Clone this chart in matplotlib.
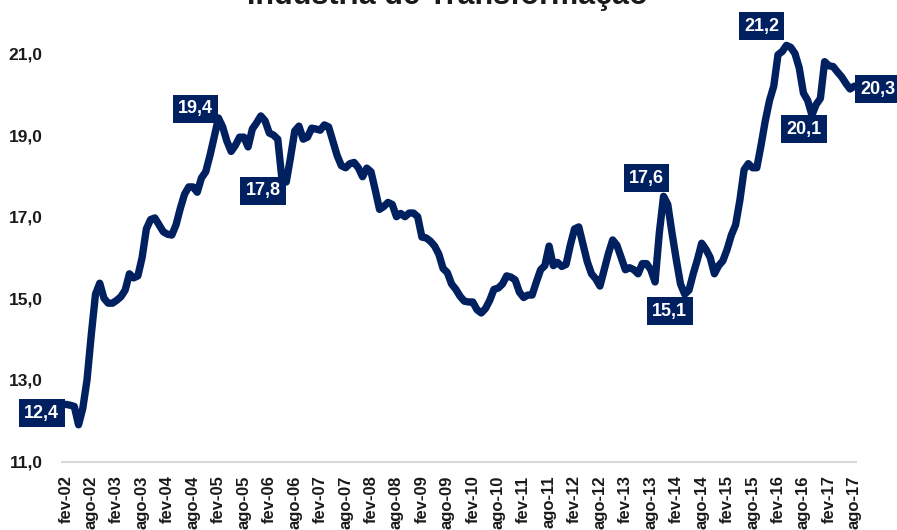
import matplotlib
matplotlib.use("Agg")
import matplotlib.pyplot as plt

plt.rcParams['font.family'] = ['Liberation Sans', 'DejaVu Sans']

title = "Indústria de Transformação"

values = [
    12.4, 12.38, 12.35, 11.9, 12.3, 13.0, 14.1, 15.1, 15.37, 15.0,
    14.88, 14.88, 14.95, 15.04, 15.2, 15.6, 15.5, 15.55, 16.0, 16.7,
    16.93, 16.97, 16.8, 16.63, 16.57, 16.55, 16.8, 17.2, 17.55, 17.73,
    17.73, 17.6, 17.95, 18.1, 18.5, 18.95, 19.42, 19.2, 18.85, 18.6,
    18.75, 18.95, 18.95, 18.71, 19.15, 19.3, 19.47, 19.35, 19.05, 19.0,
    18.9, 17.9, 17.85, 18.45, 19.1, 19.22, 18.9, 18.95, 19.17, 19.15,
    19.12, 19.25, 19.2, 18.85, 18.5, 18.25, 18.2, 18.3, 18.33, 18.2,
    17.98, 18.19, 18.1, 17.65, 17.18, 17.25, 17.35, 17.3, 17.0, 17.08,
    17.0, 17.09, 17.09, 17.0, 16.5, 16.48, 16.4, 16.28, 16.08, 15.73,
    15.63, 15.35, 15.22, 15.05, 14.93, 14.91, 14.91, 14.72, 14.64, 14.75,
    14.95, 15.22, 15.25, 15.35, 15.55, 15.52, 15.45, 15.15, 15.02, 15.08,
    15.08, 15.4, 15.7, 15.8, 16.28, 15.8, 15.88, 15.78, 15.83, 16.3,
    16.7, 16.75, 16.33, 15.9, 15.6, 15.48, 15.3, 15.7, 16.1, 16.43,
    16.3, 16.0, 15.7, 15.75, 15.7, 15.6, 15.85, 15.85, 15.7, 15.4,
    16.6, 17.5, 17.3, 16.6, 15.95, 15.35, 15.1, 15.2, 15.6, 15.95,
    16.35, 16.2, 16.0, 15.6, 15.8, 15.92, 16.2, 16.55, 16.8, 17.4,
    18.15, 18.3, 18.2, 18.2, 18.75, 19.35, 19.85, 20.2, 20.97, 21.05,
    21.2, 21.15, 21.0, 20.65, 20.03, 19.85, 19.49, 19.75, 19.9, 20.8,
    20.7, 20.68, 20.55, 20.43, 20.27, 20.13, 20.2,
]

years = list(range(2, 18))
tick_labels = []
for y in years:
    tick_labels.append(f"fev-{y:02d}")
    tick_labels.append(f"ago-{y:02d}")

yticks = [11.0, 13.0, 15.0, 17.0, 19.0, 21.0]

# annotated points: (index, text)
annot_idx = [0, 36, 51, 141, 146, 170, 176, 186]
annot_txt = ["12,4", "19,4", "17,8", "17,6", "15,1", "21,2", "20,1", "20,3"]
annot_off = [(-24, -9), (-23, 9), (-19, -11), (-17, 18), (-15, -17), (-25, 19), (-8, -14), (24, -3)]

navy = "#002060"

fig = plt.figure(figsize=(8.97, 5.30), dpi=100)
ax = fig.add_axes([62/897, 1 - 461.5/530, (856-62)/897, (461.5-12.7)/530])

x = list(range(len(values)))
ax.plot(x, values, color=navy, lw=5.3, solid_joinstyle='round', solid_capstyle='round')

ax.set_ylim(11, 22)
ax.set_xlim(-0.9, 186.4)
ax.set_yticks(yticks)
ax.set_yticklabels([f"{v:.1f}".replace('.', ',') for v in yticks],
                   fontsize=12.5, fontweight='bold', color='#1a1a1a')
ax.set_xticks(list(range(0, len(values), 6)))
ax.set_xticklabels(tick_labels, rotation=90, fontsize=12, fontweight='bold',
                   color='#1a1a1a')
ax.tick_params(axis='both', length=0)
ax.tick_params(axis='y', pad=14)
ax.tick_params(axis='x', pad=10)
for s in ['top', 'right', 'left']:
    ax.spines[s].set_visible(False)
ax.spines['bottom'].set_color('#d9d9d9')
ax.spines['bottom'].set_linewidth(1.5)

for i, t, (dx, dy) in zip(annot_idx, annot_txt, annot_off):
    ax.annotate(t, xy=(i, values[i]), xytext=(dx, dy), textcoords='offset pixels',
                ha='center', va='center', color='white', fontsize=13,
                fontweight='bold', annotation_clip=False,
                bbox=dict(boxstyle='square,pad=0.3', fc=navy, ec='none'))

fig.text(447/897, 1 - 4/530, title, ha='center', va='baseline',
         fontsize=22, fontweight='bold', color='#1a1a1a')

fig.savefig("out.png", dpi=100)
